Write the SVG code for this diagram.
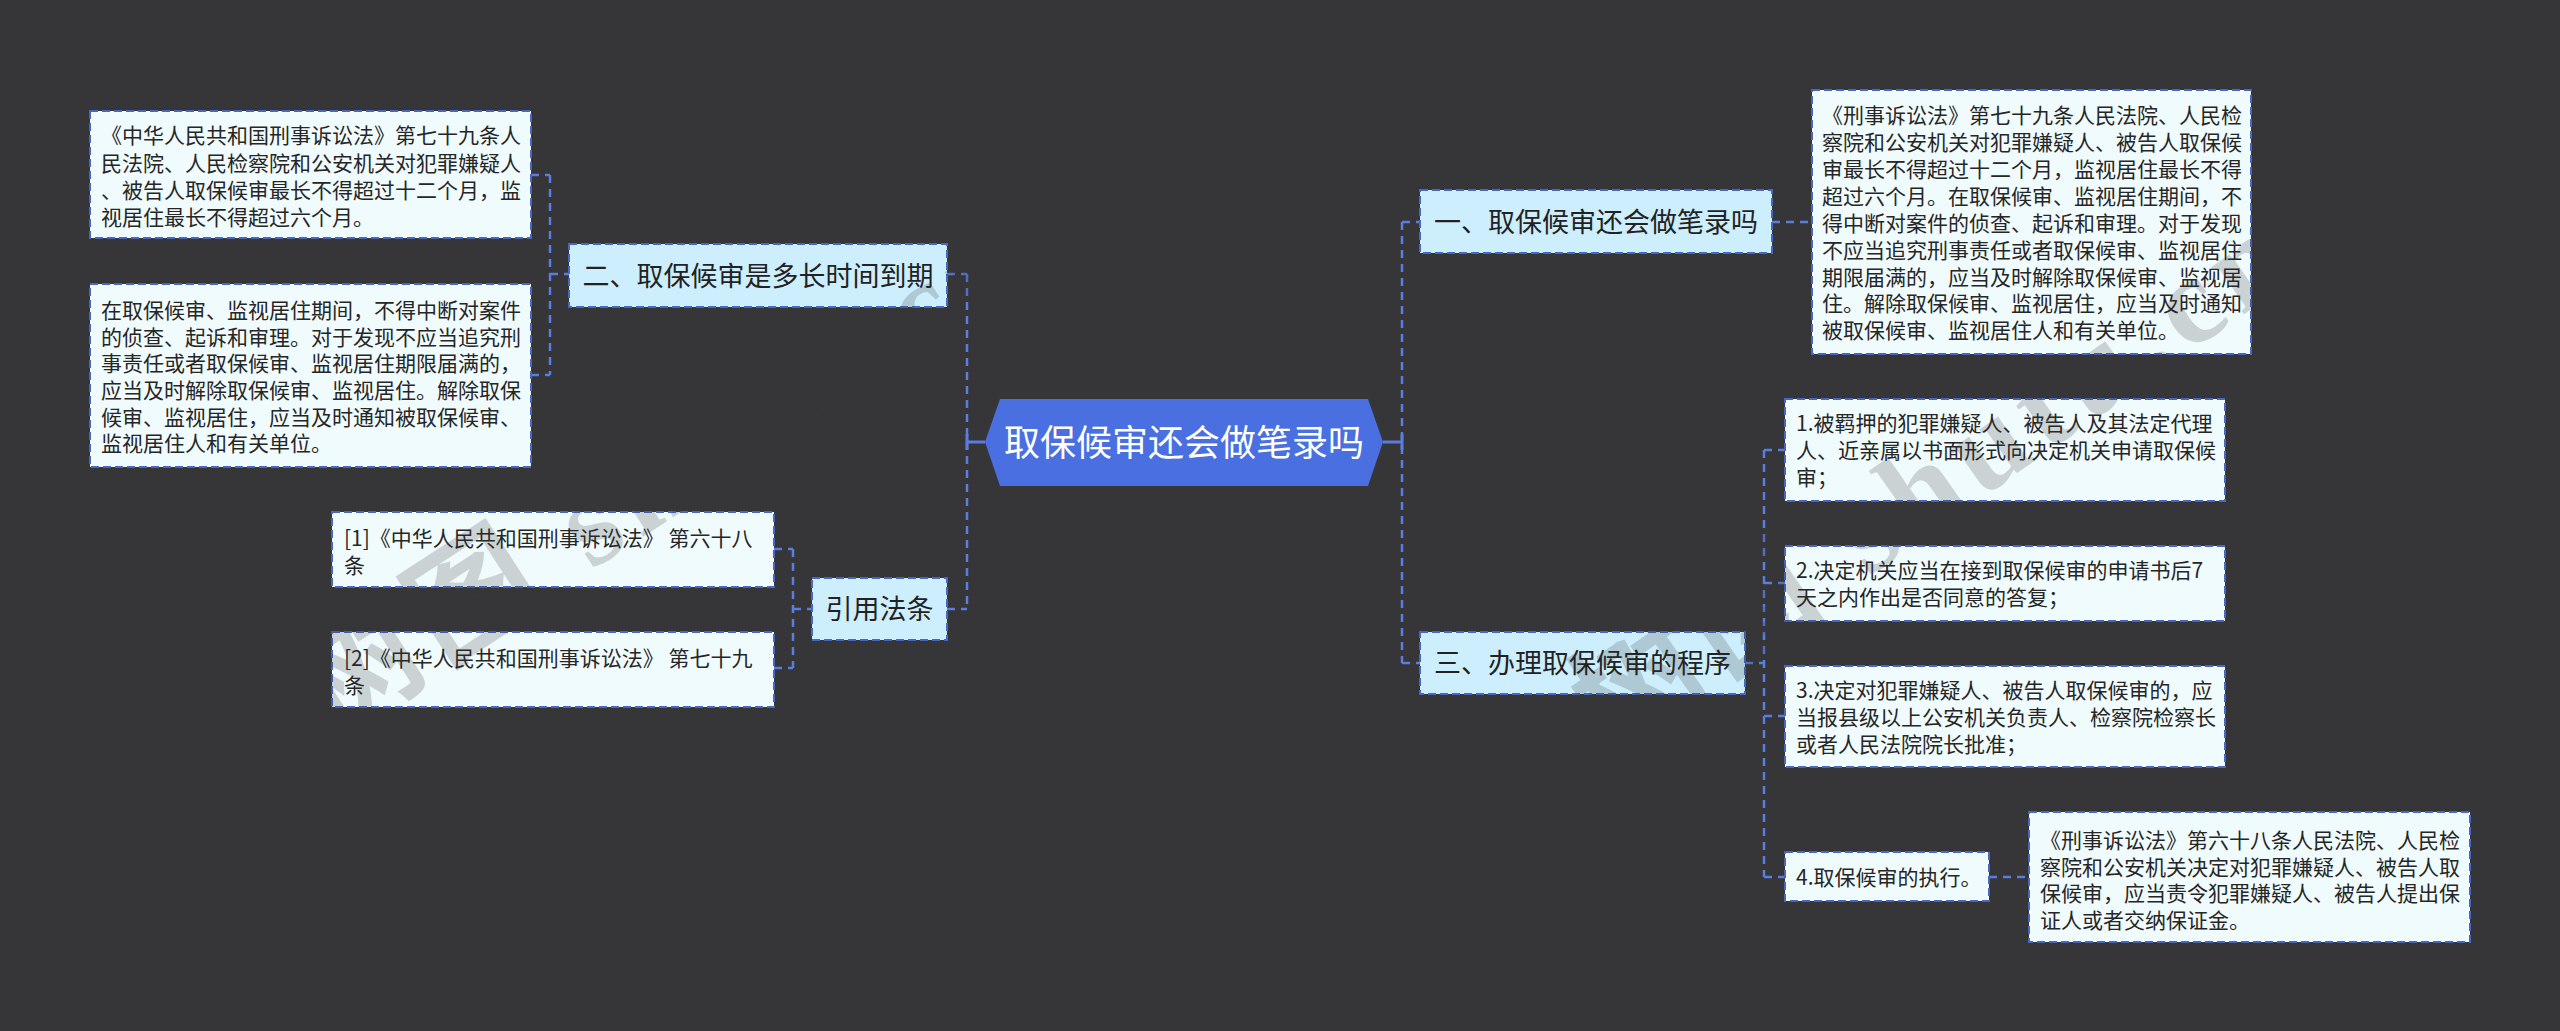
<svg xmlns="http://www.w3.org/2000/svg" width="2560" height="1031" viewBox="0 0 2560 1031">
<style>
.tb{fill:#f0fbfd;stroke:#4767c4;stroke-width:2;stroke-dasharray:8 4}
.br{fill:#cdeefd;stroke:#4767c4;stroke-width:2;stroke-dasharray:8 4}
.t{font-family:"Noto Sans CJK SC","Liberation Sans",sans-serif;font-size:21px;fill:#262626}
.bt{font-family:"Noto Sans CJK SC","Liberation Sans",sans-serif;font-size:27px;fill:#222222;text-anchor:middle}
.c{fill:none;stroke:#5a7de0;stroke-width:2.5;stroke-dasharray:8 6}
.s{fill:none;stroke:#5a7de0;stroke-width:3}
.wm{font-family:"Liberation Serif","Noto Sans CJK SC",serif;font-size:125px;font-weight:bold;letter-spacing:10px;fill:#363538;opacity:0.2}
</style>
<rect width="2560" height="1031" fill="#363538"/>

<g id="connectors">
  <path class="c" d="M967 274V609M947 274H967M947 609H967"/>
  <path class="s" d="M967 442H985M967 434V450"/>
  <path class="c" d="M550 175V375M531 175H550M531 375H550M550 274H569"/>
  <path class="c" d="M793 549V668M774 549H793M774 668H793M793 609H812"/>
  <path class="c" d="M1402 222V663M1402 222H1420M1402 663H1420"/>
  <path class="s" d="M1383 442H1402M1402 434V450"/>
  <path class="c" d="M1772 222H1812"/>
  <path class="c" d="M1764 450V877M1764 450H1785M1764 583H1785M1764 716H1785M1764 877H1785M1745 663H1764"/>
  <path class="c" d="M1989 877H2029"/>
</g>

<g id="root">
  <polygon points="985,442 1000,399 1368,399 1383,442 1368,486 1000,486" fill="#4a6fe0"/>
  <text x="1184" y="456" font-family="Noto Sans CJK SC, Liberation Sans, sans-serif" font-size="36" fill="#ffffff" text-anchor="middle">取保候审还会做笔录吗</text>
</g>

<g id="branch-2">
  <rect class="br" x="569" y="244" width="378" height="63"/>
  <text class="bt" x="758" y="286">二、取保候审是多长时间到期</text>
</g>
<g id="leaf-2a">
  <rect class="tb" x="90" y="111" width="441" height="127"/>
  <text class="t" x="101" y="143">《中华人民共和国刑事诉讼法》第七十九条人</text>
  <text class="t" x="101" y="171">民法院、人民检察院和公安机关对犯罪嫌疑人</text>
  <text class="t" x="101" y="198">、被告人取保候审最长不得超过十二个月，监</text>
  <text class="t" x="101" y="225">视居住最长不得超过六个月。</text>
</g>
<g id="leaf-2b">
  <rect class="tb" x="90" y="284" width="441" height="183"/>
  <text class="t" x="101" y="318">在取保候审、监视居住期间，不得中断对案件</text>
  <text class="t" x="101" y="345">的侦查、起诉和审理。对于发现不应当追究刑</text>
  <text class="t" x="101" y="371">事责任或者取保候审、监视居住期限届满的，</text>
  <text class="t" x="101" y="398">应当及时解除取保候审、监视居住。解除取保</text>
  <text class="t" x="101" y="425">候审、监视居住，应当及时通知被取保候审、</text>
  <text class="t" x="101" y="451">监视居住人和有关单位。</text>
</g>

<g id="branch-cite">
  <rect class="br" x="812" y="578" width="135" height="62"/>
  <text class="bt" x="879.5" y="619">引用法条</text>
</g>
<g id="cite-1">
  <rect class="tb" x="332" y="512" width="442" height="75"/>
  <text class="t" x="344" y="546">[1]《中华人民共和国刑事诉讼法》 第六十八</text>
  <text class="t" x="344" y="573">条</text>
</g>
<g id="cite-2">
  <rect class="tb" x="332" y="632" width="442" height="75"/>
  <text class="t" x="344" y="666">[2]《中华人民共和国刑事诉讼法》 第七十九</text>
  <text class="t" x="344" y="693">条</text>
</g>

<g id="branch-1">
  <rect class="br" x="1420" y="190" width="352" height="63"/>
  <text class="bt" x="1596" y="232">一、取保候审还会做笔录吗</text>
</g>
<g id="leaf-1">
  <rect class="tb" x="1812" y="90" width="439" height="264"/>
  <text class="t" x="1822" y="123">《刑事诉讼法》第七十九条人民法院、人民检</text>
  <text class="t" x="1822" y="150">察院和公安机关对犯罪嫌疑人、被告人取保候</text>
  <text class="t" x="1822" y="177">审最长不得超过十二个月，监视居住最长不得</text>
  <text class="t" x="1822" y="204">超过六个月。在取保候审、监视居住期间，不</text>
  <text class="t" x="1822" y="231">得中断对案件的侦查、起诉和审理。对于发现</text>
  <text class="t" x="1822" y="258">不应当追究刑事责任或者取保候审、监视居住</text>
  <text class="t" x="1822" y="285">期限届满的，应当及时解除取保候审、监视居</text>
  <text class="t" x="1822" y="311">住。解除取保候审、监视居住，应当及时通知</text>
  <text class="t" x="1822" y="338">被取保候审、监视居住人和有关单位。</text>
</g>

<g id="branch-3">
  <rect class="br" x="1420" y="632" width="325" height="62"/>
  <text class="bt" x="1582.5" y="673">三、办理取保候审的程序</text>
</g>
<g id="step-1">
  <rect class="tb" x="1785" y="399" width="440" height="102"/>
  <text class="t" x="1796" y="431">1.被羁押的犯罪嫌疑人、被告人及其法定代理</text>
  <text class="t" x="1796" y="458">人、近亲属以书面形式向决定机关申请取保候</text>
  <text class="t" x="1796" y="485">审；</text>
</g>
<g id="step-2">
  <rect class="tb" x="1785" y="546" width="440" height="75"/>
  <text class="t" x="1796" y="578">2.决定机关应当在接到取保候审的申请书后7</text>
  <text class="t" x="1796" y="605">天之内作出是否同意的答复；</text>
</g>
<g id="step-3">
  <rect class="tb" x="1785" y="666" width="440" height="101"/>
  <text class="t" x="1796" y="698">3.决定对犯罪嫌疑人、被告人取保候审的，应</text>
  <text class="t" x="1796" y="725">当报县级以上公安机关负责人、检察院检察长</text>
  <text class="t" x="1796" y="752">或者人民法院院长批准；</text>
</g>
<g id="step-4">
  <rect class="tb" x="1785" y="852" width="204" height="49"/>
  <text class="t" x="1796" y="885">4.取保候审的执行。</text>
</g>
<g id="step-4-detail">
  <rect class="tb" x="2029" y="812" width="441" height="130"/>
  <text class="t" x="2040" y="848">《刑事诉讼法》第六十八条人民法院、人民检</text>
  <text class="t" x="2040" y="875">察院和公安机关决定对犯罪嫌疑人、被告人取</text>
  <text class="t" x="2040" y="901">保候审，应当责令犯罪嫌疑人、被告人提出保</text>
  <text class="t" x="2040" y="928">证人或者交纳保证金。</text>
</g>

<text class="wm" transform="translate(330,740) rotate(-33)">树图 shutu.cn</text>
<text class="wm" transform="translate(1613,756) rotate(-35)">树图 shutu.cn</text>
</svg>
